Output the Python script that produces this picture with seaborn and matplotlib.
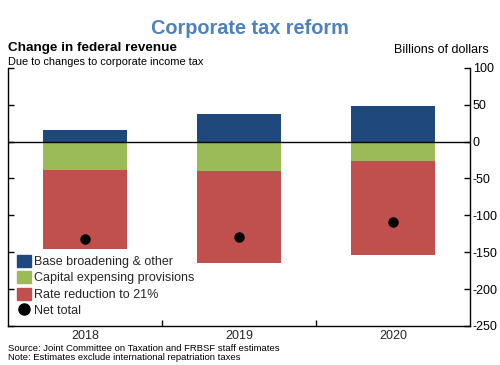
import numpy as np
import pandas as pd
import seaborn as sns
import matplotlib.pyplot as plt
from matplotlib.patches import Patch
from matplotlib.lines import Line2D

years = ["2018", "2019", "2020"]
base_broadening = [16, 37, 48]
capital_expensing = [-38, -40, -26]
rate_reduction = [-107, -125, -128]
net_total = [-132, -129, -109]

c_base = "#1F497D"
c_cap = "#9BBB59"
c_rate = "#C0504D"

sns.set_theme(style="white")
plt.rcParams["font.family"] = ["Liberation Sans", "DejaVu Sans"]
plt.rcParams["axes.unicode_minus"] = False

fig = plt.figure(figsize=(5, 3.65), dpi=100)
ax = fig.add_axes([0.016, 0.107, 0.924, 0.707])

# negative side: draw the cumulative total first, then the capital part over it
neg_total = [c + r for c, r in zip(capital_expensing, rate_reduction)]
df = pd.DataFrame({"year": years, "base": base_broadening,
                   "cap": capital_expensing, "neg": neg_total, "net": net_total})

for col, c in [("neg", c_rate), ("cap", c_cap), ("base", c_base)]:
    sns.barplot(data=df, x="year", y=col, color=c, width=0.55,
                saturation=1, linewidth=0, ax=ax)
sns.stripplot(data=df, x="year", y="net", color="black", jitter=False,
              size=7.5, ax=ax, zorder=5)

ax.axhline(0, color="black", lw=1)
ax.set_xlim(-0.5, 2.5)
ax.set_ylim(-250, 100)
ax.set_yticks(np.arange(-250, 101, 50))
ax.set_xlabel("")
ax.set_ylabel("")

for s in ["left", "right", "bottom"]:
    ax.spines[s].set_visible(True)
    ax.spines[s].set_color("black")
    ax.spines[s].set_linewidth(1)
ax.spines["top"].set_visible(False)

ax.tick_params(axis="y", which="major", left=True, right=True, labelleft=False,
               labelright=True, direction="in", length=4, width=1,
               labelsize=9, pad=2, colors="black")
ax.tick_params(axis="x", which="major", length=0, labelsize=9, pad=3)
ax.set_xticks([0.5, 1.5], minor=True)
ax.tick_params(axis="x", which="minor", bottom=True, direction="in",
               length=4, width=1, color="black")

handles = [Patch(color=c_base, label="Base broadening & other"),
           Patch(color=c_cap, label="Capital expensing provisions"),
           Patch(color=c_rate, label="Rate reduction to 21%"),
           Line2D([], [], marker="o", color="black", linestyle="none",
                  markersize=8, label="Net total")]
ax.legend(handles=handles, loc="lower left", bbox_to_anchor=(0.0, 0.0),
          frameon=False, fontsize=9, handlelength=1.1, handleheight=1.1,
          handletextpad=0.3, labelspacing=0.25, borderaxespad=0.3)

fig.text(0.5, 0.922, "Corporate tax reform", ha="center", va="center",
         fontsize=14.3, fontweight="bold", color="#4F81BD")
fig.text(0.016, 0.869, "Change in federal revenue", ha="left", va="center",
         fontsize=9.7, fontweight="bold", color="black")
fig.text(0.016, 0.831, "Due to changes to corporate income tax", ha="left",
         va="center", fontsize=7.9, color="black")
fig.text(0.978, 0.862, "Billions of dollars", ha="right", va="center",
         fontsize=9, color="black")
fig.text(0.016, 0.045, "Source: Joint Committee on Taxation and FRBSF staff estimates",
         ha="left", va="center", fontsize=6.8, color="black")
fig.text(0.016, 0.021, "Note: Estimates exclude international repatriation taxes",
         ha="left", va="center", fontsize=6.8, color="black")

fig.savefig("out.png", dpi=100)
